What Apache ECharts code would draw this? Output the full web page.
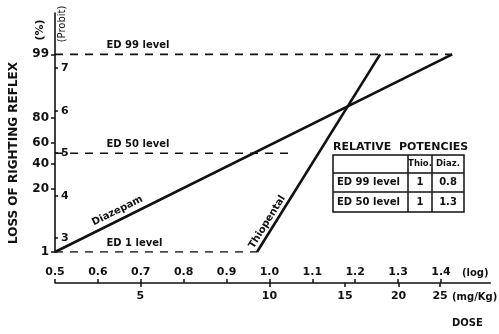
<!DOCTYPE html>
<html>
<head>
<meta charset="utf-8">
<script src="https://cdn.jsdelivr.net/npm/echarts@6/dist/echarts.min.js"></script>
<style>html,body{margin:0;padding:0;background:#fff}#c{width:499px;height:334px}</style>
</head>
<body>
<div id="c"></div>
<script>
// ---- data ----
const logDoseTicks = [0.5, 0.6, 0.7, 0.8, 0.9, 1.0, 1.1, 1.2, 1.3, 1.4];
const mgPerKgTicks = [5, 10, 15, 20, 25];
const percentTicks = [1, 20, 40, 60, 80, 99];
const probitTicks = [3, 4, 5, 6, 7];
const diazepamLogDose = [0.5, 1.426];
const diazepamPercent = [1, 99];
const thiopentalLogDose = [0.971, 1.258];
const thiopentalPercent = [1, 99];
const levelNames = ['ED 99 level', 'ED 50 level', 'ED 1 level'];
const levelPercent = [99, 50, 1];
const levelEndLogDose = [1.426, 1.053, 0.971];
const potencyRows = ['ED 99 level', 'ED 50 level'];
const potencyThio = ['1', '1'];
const potencyDiaz = ['0.8', '1.3'];

// probit transform (inverse normal CDF + 5)
function probit(pct) {
  const p = pct / 100;
  const a = [-3.969683028665376e+01, 2.209460984245205e+02, -2.759285104469687e+02, 1.383577518672690e+02, -3.066479806614716e+01, 2.506628277459239e+00];
  const b = [-5.447609879822406e+01, 1.615858368580409e+02, -1.556989798598866e+02, 6.680131188771972e+01, -1.328068155288572e+01];
  const c = [-7.784894002430293e-03, -3.223964580411365e-01, -2.400758277161838e+00, -2.549732539343734e+00, 4.374664141464968e+00, 2.938163982698783e+00];
  const d = [7.784695709041462e-03, 3.224671290700398e-01, 2.445134137142996e+00, 3.754408661907416e+00];
  const pl = 0.02425;
  let q, r, z;
  if (p < pl) {
    q = Math.sqrt(-2 * Math.log(p));
    z = (((((c[0]*q+c[1])*q+c[2])*q+c[3])*q+c[4])*q+c[5]) / ((((d[0]*q+d[1])*q+d[2])*q+d[3])*q+1);
  } else if (p <= 1 - pl) {
    q = p - 0.5; r = q * q;
    z = (((((a[0]*r+a[1])*r+a[2])*r+a[3])*r+a[4])*r+a[5])*q / (((((b[0]*r+b[1])*r+b[2])*r+b[3])*r+b[4])*r+1);
  } else {
    q = Math.sqrt(-2 * Math.log(1 - p));
    z = -(((((c[0]*q+c[1])*q+c[2])*q+c[3])*q+c[4])*q+c[5]) / ((((d[0]*q+d[1])*q+d[2])*q+d[3])*q+1);
  }
  return z + 5;
}

const pctProbit = percentTicks.map(probit);
const FONT = 'DejaVu Sans';
const black = '#111';

const chart = echarts.init(document.getElementById('c'), null, {renderer: 'canvas'});

const series = [];
series.push({
  type: 'line', name: 'Diazepam', xAxisIndex: 0, yAxisIndex: 0, symbol: 'none',
  lineStyle: {color: black, width: 2.6}, silent: true,
  data: diazepamLogDose.map((x, i) => [x, probit(diazepamPercent[i])])
});
series.push({
  type: 'line', name: 'Thiopental', xAxisIndex: 0, yAxisIndex: 0, symbol: 'none',
  lineStyle: {color: black, width: 2.6}, silent: true,
  data: thiopentalLogDose.map((x, i) => [x, probit(thiopentalPercent[i])])
});
levelNames.forEach((n, i) => {
  series.push({
    type: 'line', name: n, xAxisIndex: 0, yAxisIndex: 0, symbol: 'none', silent: true,
    lineStyle: {color: black, width: 1.6, type: [8, 7]},
    data: [[0.5, probit(levelPercent[i])], [levelEndLogDose[i], probit(levelPercent[i])]]
  });
});

const option = {
  backgroundColor: '#fff',
  animation: false,
  grid: {left: 55, right: 8.7, top: 13, bottom: 82},
  xAxis: [
    {
      type: 'value', position: 'bottom', offset: 31, min: 0.5, max: 1.515,
      splitLine: {show: false},
      axisLine: {show: true, lineStyle: {color: black, width: 1.5}},
      axisTick: {show: true, inside: true, length: 4, customValues: logDoseTicks, lineStyle: {color: black, width: 1.5}},
      axisLabel: {show: true, inside: true, margin: 5, customValues: logDoseTicks, color: black,
        fontFamily: FONT, fontWeight: 'bold', fontSize: 11, formatter: v => v.toFixed(1)}
    },
    {
      type: 'value', position: 'bottom', offset: 31, min: 0.5, max: 1.515,
      splitLine: {show: false},
      axisLine: {show: false},
      axisTick: {show: true, inside: false, length: 4, customValues: mgPerKgTicks.map(Math.log10), lineStyle: {color: black, width: 1.5}},
      axisLabel: {show: true, margin: 8, customValues: mgPerKgTicks.map(Math.log10), color: black,
        fontFamily: FONT, fontWeight: 'bold', fontSize: 11, formatter: v => String(Math.round(Math.pow(10, v)))}
    }
  ],
  yAxis: [
    {
      type: 'value', position: 'left', min: probit(1), max: 8.3,
      splitLine: {show: false},
      axisLine: {show: true, lineStyle: {color: black, width: 1.6}},
      axisTick: {show: true, inside: false, length: 4, customValues: pctProbit, lineStyle: {color: black, width: 1.5}},
      axisLabel: {show: true, margin: 6, customValues: pctProbit, color: black,
        fontFamily: FONT, fontWeight: 'bold', fontSize: 12,
        formatter: v => {
          let best = 0, bd = 1e9;
          pctProbit.forEach((p, i) => { const d = Math.abs(p - v); if (d < bd) { bd = d; best = i; } });
          return String(percentTicks[best]);
        }}
    },
    {
      type: 'value', position: 'left', offset: 0, min: probit(1), max: 8.3,
      splitLine: {show: false},
      axisLine: {show: false},
      axisTick: {show: true, inside: true, length: 3, customValues: probitTicks, lineStyle: {color: black, width: 1.5}},
      axisLabel: {show: true, inside: true, margin: 6, customValues: probitTicks, color: black,
        fontFamily: FONT, fontWeight: 'bold', fontSize: 11, formatter: v => String(Math.round(v))}
    }
  ],
  series: series
};
chart.setOption(option);

// annotations positioned from data coordinates
function px(x, pct) { return chart.convertToPixel({xAxisIndex: 0, yAxisIndex: 0}, [x, probit(pct)]); }
const txt = (x, y, s, size, rot, opts) => Object.assign({
  type: 'text', x: x, y: y, rotation: rot || 0, silent: true,
  style: Object.assign({text: s, fill: black, font: 'bold ' + size + 'px "' + FONT + '"', align: 'left', verticalAlign: 'middle'}, (opts || {}))
}, {});

const g = [];
levelNames.forEach((n, i) => {
  const p = px(0.62, levelPercent[i]);
  g.push(txt(p[0], p[1] - 9, n, 10, 0));
});
// line names
{
  const p = px(0.655, 50);
  const a = px(diazepamLogDose[0], diazepamPercent[0]), b = px(diazepamLogDose[1], diazepamPercent[1]);
  const ang = Math.atan2(a[1] - b[1], b[0] - a[0]);
  const q = px(0.655, 1);
  const t = (q[0] - a[0]) / (b[0] - a[0]);
  const ly = a[1] + t * (b[1] - a[1]);
  g.push(txt(q[0] - 4, ly - 8, 'Diazepam', 10, ang, {align: 'center'}));
}
{
  const a = px(thiopentalLogDose[0], thiopentalPercent[0]), b = px(thiopentalLogDose[1], thiopentalPercent[1]);
  const ang = Math.atan2(a[1] - b[1], b[0] - a[0]);
  const y = 218;
  const t = (y - a[1]) / (b[1] - a[1]);
  const lx = a[0] + t * (b[0] - a[0]);
  g.push(txt(lx - 11, y + 4, 'Thiopental', 10, ang, {align: 'center'}));
}
// axis titles
g.push(txt(14, 153, 'LOSS OF RIGHTING REFLEX', 12, Math.PI / 2, {align: 'center'}));
g.push(txt(40, 30, '(%)', 11, Math.PI / 2, {align: 'center'}));
g.push(txt(62, 24, '(Probit)', 10, Math.PI / 2, {align: 'center', font: '10px "' + FONT + '"'}));
g.push(txt(462, 273, '(log)', 10, 0));
g.push(txt(452, 297, '(mg/Kg)', 10, 0));
g.push(txt(452, 323, 'DOSE', 10, 0));

// relative potencies table
const tx0 = 333, tx1 = 408, tx2 = 432, tx3 = 464, ty0 = 155, ty1 = 173, ty2 = 192, ty3 = 212;
g.push(txt(333, 147, 'RELATIVE  POTENCIES', 11, 0));
g.push({type: 'rect', silent: true, shape: {x: tx0, y: ty0, width: tx3 - tx0, height: ty3 - ty0}, style: {fill: 'none', stroke: black, lineWidth: 1.5}});
[ty1, ty2].forEach(y => g.push({type: 'line', silent: true, shape: {x1: tx0, y1: y, x2: tx3, y2: y}, style: {stroke: black, lineWidth: 1.5}}));
[tx1, tx2].forEach(x => g.push({type: 'line', silent: true, shape: {x1: x, y1: ty0, x2: x, y2: ty3}, style: {stroke: black, lineWidth: 1.5}}));
g.push(txt((tx1 + tx2) / 2, (ty0 + ty1) / 2, 'Thio.', 8.5, 0, {align: 'center'}));
g.push(txt((tx2 + tx3) / 2, (ty0 + ty1) / 2, 'Diaz.', 8.5, 0, {align: 'center'}));
const rowsY = [(ty1 + ty2) / 2, (ty2 + ty3) / 2];
potencyRows.forEach((r, i) => {
  g.push(txt(tx0 + 4, rowsY[i], r, 10, 0));
  g.push(txt((tx1 + tx2) / 2, rowsY[i], potencyThio[i], 10, 0, {align: 'center'}));
  g.push(txt((tx2 + tx3) / 2, rowsY[i], potencyDiaz[i], 10, 0, {align: 'center'}));
});

chart.setOption({graphic: g});
</script>
</body>
</html>
